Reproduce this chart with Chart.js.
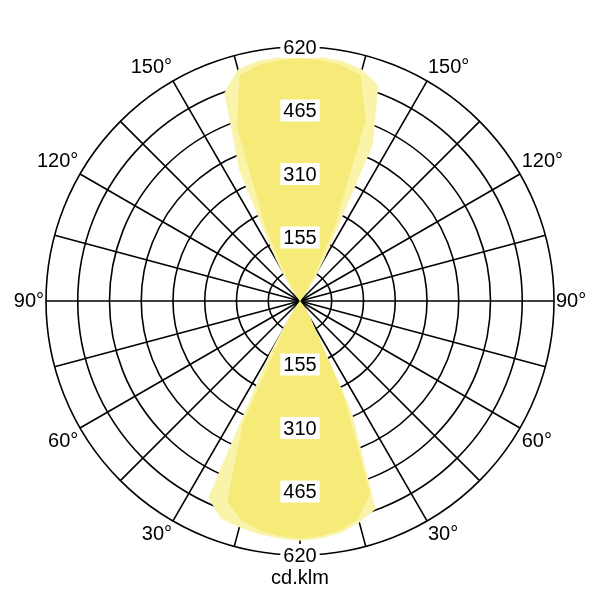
<!DOCTYPE html>
<html>
<head>
<script src="https://cdn.jsdelivr.net/npm/chart.js@4"></script>
<style>body{margin:0;background:#fff}#wrap{width:600px;height:600px}</style>
</head>
<body>
<div id="wrap"><canvas id="polarChart"></canvas></div>
<script>
// angles every 5 deg, clockwise from the top (gamma 180 at top, 0 at bottom)
const angleLabels = [];
for (let i = 0; i < 72; i++) {
    const t = i * 5;
    angleLabels.push(t <= 180 ? 180 - t : t - 180);
}
const z = n => new Array(n).fill(0);
// outer (light) lobe, by 5 deg steps from the top, clockwise
const outerValues = [
    598, 597, 595, 585, 560, 420, 120, 50, 15, ...z(19),
    10, 40, 60, 300, 540, 560, 575, 582, 585, 582, 578, 572, 565, 530, 150, 40, 10, ...z(19),
    15, 50, 120, 350, 540, 585, 595, 597
];
// inner (stronger) lobe
const innerValues = [
    592, 590, 585, 570, 470, 200, 60, 15, ...z(21),
    15, 55, 250, 500, 550, 568, 576, 580, 576, 568, 555, 520, 330, 70, 15, ...z(21),
    15, 60, 200, 450, 570, 585, 590
];
const tickValues = [155, 310, 465, 620];

const tickPlugin = {
    id: 'tickText',
    afterDraw(chart) {
        const s = chart.scales.r;
        const ctx = chart.ctx;
        ctx.save();
        ctx.font = '20px Arial, "Liberation Sans"';
        ctx.textAlign = 'center';
        ctx.textBaseline = 'middle';
        tickValues.forEach(v => {
            [0, 36].forEach(idx => {
                const p = s.getPointPositionForValue(idx, v);
                const w = ctx.measureText(String(v)).width + 6;
                ctx.fillStyle = '#fff';
                ctx.fillRect(p.x - w / 2, p.y - 11, w, 22);
                ctx.fillStyle = '#000';
                ctx.fillText(String(v), p.x, p.y + 1);
            });
        });
        ctx.fillText('cd.klm', s.xCenter, 578);
        ctx.restore();
    }
};

new Chart(document.getElementById('polarChart'), {
    type: 'radar',
    data: {
        labels: angleLabels,
        datasets: [
            { data: outerValues, fill: true, borderWidth: 0, pointRadius: 0, order: 2,
              backgroundColor: 'rgb(250,244,170)' },
            { data: innerValues, fill: true, borderWidth: 0, pointRadius: 0, order: 1,
              backgroundColor: 'rgb(246,234,120)' }
        ]
    },
    options: {
        responsive: true,
        maintainAspectRatio: false,
        animation: false,
        layout: { padding: { top: 21, bottom: 19, left: 6, right: 6 } },
        plugins: { legend: { display: false }, tooltip: { enabled: false } },
        scales: {
            r: {
                z: 1,
                min: 0,
                max: 620,
                ticks: { stepSize: 77.5, display: false },
                grid: { circular: true, color: '#000', lineWidth: 1.6 },
                angleLines: {
                    color: '#000',
                    lineWidth: ctx => (ctx.index % 3 === 0 ? 1.6 : 0)
                },
                pointLabels: {
                    color: '#000',
                    font: { size: 20, family: 'Arial, "Liberation Sans"' },
                    padding: 2,
                    callback: (lbl) => (lbl % 30 === 0 && lbl !== 0 && lbl !== 180 ? lbl + '°' : '')
                }
            }
        }
    },
    plugins: [tickPlugin]
});
</script>
</body>
</html>
